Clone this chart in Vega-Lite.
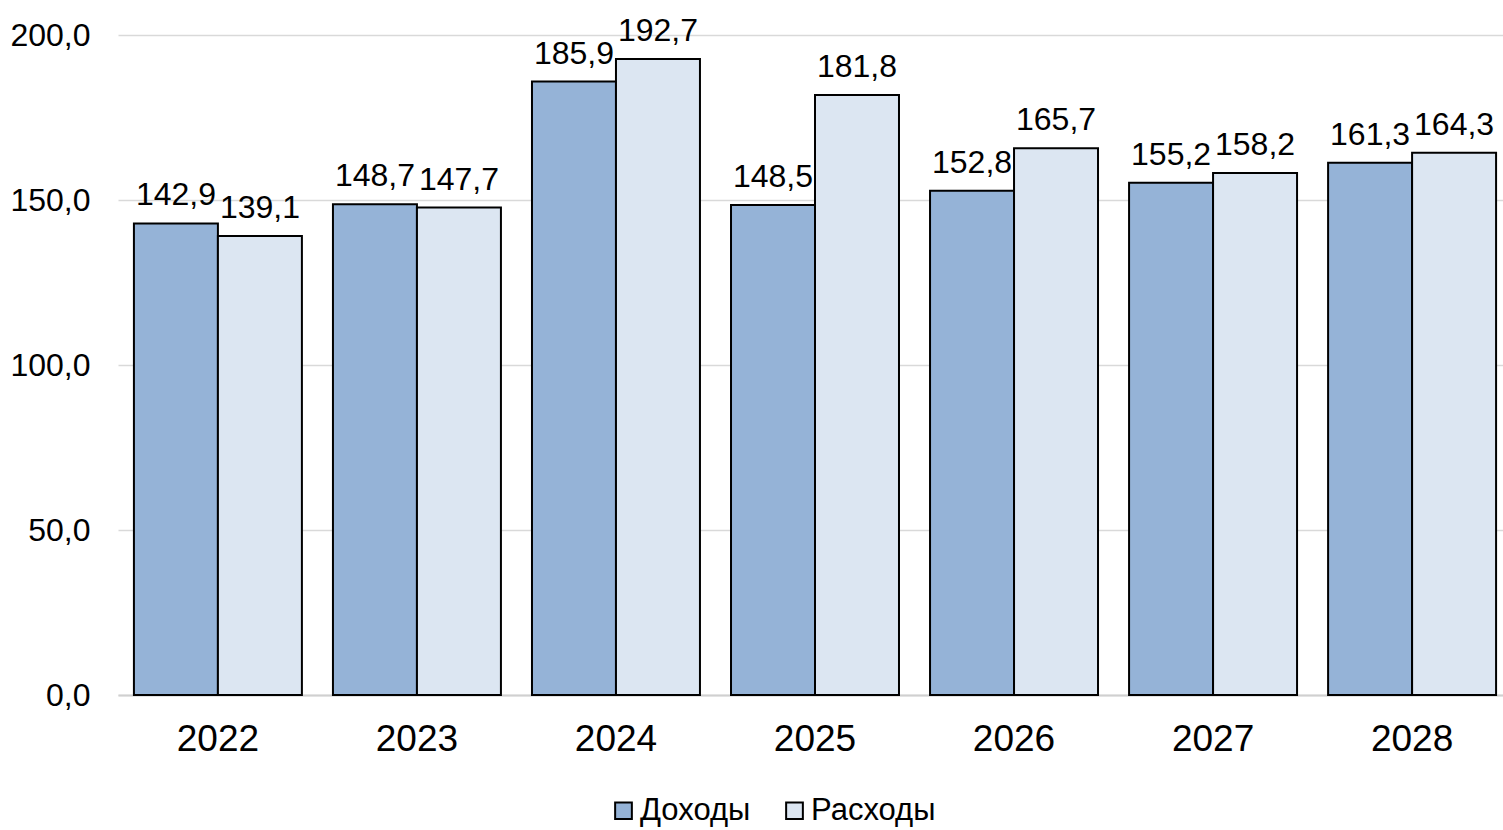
{
  "$schema": "https://vega.github.io/schema/vega-lite/v6.json",
  "width": 1394,
  "height": 660,
  "autosize": "none",
  "padding": {"left": 118, "top": 35, "right": 0, "bottom": 135},
  "config": {
    "view": {"stroke": null},
    "font": "Liberation Sans",
    "locale": {"number": {"decimal": ",", "thousands": " ", "grouping": [3], "currency": ["", ""]}}
  },
  "data": {
    "values": [
      {"year": "2022", "series": "Доходы", "value": 142.9},
      {"year": "2022", "series": "Расходы", "value": 139.1},
      {"year": "2023", "series": "Доходы", "value": 148.7},
      {"year": "2023", "series": "Расходы", "value": 147.7},
      {"year": "2024", "series": "Доходы", "value": 185.9},
      {"year": "2024", "series": "Расходы", "value": 192.7},
      {"year": "2025", "series": "Доходы", "value": 148.5},
      {"year": "2025", "series": "Расходы", "value": 181.8},
      {"year": "2026", "series": "Доходы", "value": 152.8},
      {"year": "2026", "series": "Расходы", "value": 165.7},
      {"year": "2027", "series": "Доходы", "value": 155.2},
      {"year": "2027", "series": "Расходы", "value": 158.2},
      {"year": "2028", "series": "Доходы", "value": 161.3},
      {"year": "2028", "series": "Расходы", "value": 164.3}
    ]
  },
  "encoding": {
    "x": {
      "field": "year", "type": "nominal",
      "scale": {"paddingInner": 0.156, "paddingOuter": 0.08},
      "axis": {
        "title": null, "labelAngle": 0, "labelFontSize": 37, "labelColor": "#000000",
        "labelPadding": 26, "ticks": false, "domainColor": "#d0d0d0", "domainWidth": 2
      }
    },
    "xOffset": {"field": "series", "type": "nominal", "sort": ["Доходы", "Расходы"]},
    "y": {
      "field": "value", "type": "quantitative",
      "scale": {"domain": [0, 200]},
      "axis": {
        "title": null, "values": [0, 50, 100, 150, 200], "format": ".1f",
        "labelFontSize": 32, "labelColor": "#000000", "labelPadding": 28,
        "ticks": false, "domain": false, "gridColor": "#d9d9d9", "gridWidth": 1.5
      }
    }
  },
  "layer": [
    {
      "mark": {"type": "bar", "stroke": "#000000", "strokeWidth": 2},
      "encoding": {
        "color": {
          "field": "series", "type": "nominal",
          "scale": {"domain": ["Доходы", "Расходы"], "range": ["#95B3D7", "#DCE6F2"]},
          "legend": {
            "title": null, "orient": "none", "direction": "horizontal",
            "legendX": 490, "legendY": 760,
            "symbolType": "square", "symbolSize": 280, "symbolStrokeColor": "#000000",
            "symbolStrokeWidth": 2, "labelFontSize": 31, "labelColor": "#000000",
            "columnPadding": 28, "labelOffset": 1
          }
        }
      }
    },
    {
      "mark": {"type": "text", "baseline": "alphabetic", "dy": -18, "fontSize": 32, "color": "#000000"},
      "encoding": {
        "text": {"field": "value", "type": "quantitative", "format": ".1f"}
      }
    }
  ]
}
